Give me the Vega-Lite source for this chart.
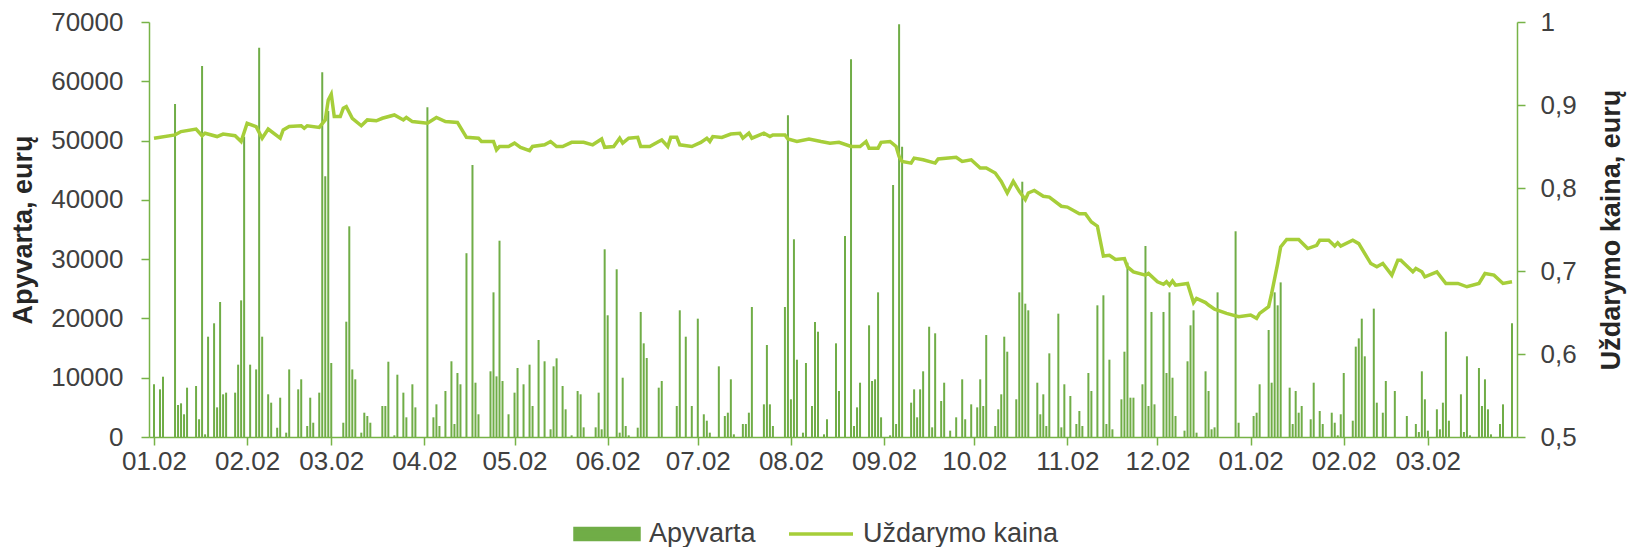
{
  "$schema": "https://vega.github.io/schema/vega-lite/v6.json",
  "width": 1368,
  "height": 415,
  "autosize": {"type": "none"},
  "padding": {"left": 149, "top": 22, "right": 114, "bottom": 110},
  "background": "white",
  "datasets": {
    "bars": [
      {"d":"2017-01-02T00:00","v":8890},{"d":"2017-01-04T00:00","v":8040},{"d":"2017-01-05T00:00","v":10170},{"d":"2017-01-09T00:00","v":56170},{"d":"2017-01-10T00:00","v":5400},{"d":"2017-01-11T00:00","v":5680},{"d":"2017-01-12T00:00","v":3830},{"d":"2017-01-13T00:00","v":8320},{"d":"2017-01-16T00:00","v":8600},{"d":"2017-01-17T00:00","v":2990},{"d":"2017-01-18T00:00","v":62580},{"d":"2017-01-19T00:00","v":450},{"d":"2017-01-20T00:00","v":16920},{"d":"2017-01-22T00:00","v":19180},{"d":"2017-01-23T00:00","v":5000},{"d":"2017-01-24T00:00","v":22770},{"d":"2017-01-25T00:00","v":7200},{"d":"2017-01-26T00:00","v":7480},{"d":"2017-01-29T00:00","v":7480},{"d":"2017-01-30T00:00","v":12200},{"d":"2017-01-31T00:00","v":23050},
      {"d":"2017-02-01T00:00","v":50650},{"d":"2017-02-03T00:00","v":12200},{"d":"2017-02-05T00:00","v":11400},{"d":"2017-02-06T00:00","v":65670},{"d":"2017-02-07T00:00","v":16920},{"d":"2017-02-09T00:00","v":7200},{"d":"2017-02-10T00:00","v":5790},{"d":"2017-02-12T00:00","v":1570},{"d":"2017-02-13T00:00","v":6630},{"d":"2017-02-15T00:00","v":730},{"d":"2017-02-16T00:00","v":11400},{"d":"2017-02-19T00:00","v":8040},{"d":"2017-02-20T00:00","v":9730},{"d":"2017-02-22T00:00","v":1860},{"d":"2017-02-23T00:00","v":6630},{"d":"2017-02-24T00:00","v":2410},{"d":"2017-02-26T00:00","v":7480},{"d":"2017-02-27T00:00","v":61520},{"d":"2017-02-28T00:00","v":43980},
      {"d":"2017-03-01T00:00","v":55000},{"d":"2017-03-02T00:00","v":12480},{"d":"2017-03-06T00:00","v":2410},{"d":"2017-03-07T00:00","v":19450},{"d":"2017-03-08T00:00","v":35540},{"d":"2017-03-09T00:00","v":11400},{"d":"2017-03-10T00:00","v":9730},{"d":"2017-03-12T00:00","v":730},{"d":"2017-03-13T00:00","v":4100},{"d":"2017-03-14T00:00","v":3540},{"d":"2017-03-15T00:00","v":2410},{"d":"2017-03-19T00:00","v":5230},{"d":"2017-03-20T00:00","v":5230},{"d":"2017-03-21T00:00","v":12700},{"d":"2017-03-23T00:00","v":280},{"d":"2017-03-24T00:00","v":10510},{"d":"2017-03-26T00:00","v":7480},{"d":"2017-03-27T00:00","v":3320},{"d":"2017-03-29T00:00","v":8890},{"d":"2017-03-30T00:00","v":5000},
      {"d":"2017-04-03T00:00","v":55610},{"d":"2017-04-05T00:00","v":3320},{"d":"2017-04-06T00:00","v":5510},{"d":"2017-04-07T00:00","v":1860},{"d":"2017-04-09T00:00","v":7760},{"d":"2017-04-11T00:00","v":12770},{"d":"2017-04-12T00:00","v":2190},{"d":"2017-04-13T00:00","v":10800},{"d":"2017-04-14T00:00","v":8890},{"d":"2017-04-16T00:00","v":31000},{"d":"2017-04-18T00:00","v":45880},{"d":"2017-04-19T00:00","v":9160},{"d":"2017-04-20T00:00","v":3830},{"d":"2017-04-24T00:00","v":11080},{"d":"2017-04-25T00:00","v":24400},{"d":"2017-04-26T00:00","v":10230},{"d":"2017-04-27T00:00","v":33110},{"d":"2017-04-28T00:00","v":9450},{"d":"2017-04-30T00:00","v":3830},
      {"d":"2017-05-02T00:00","v":7480},{"d":"2017-05-03T00:00","v":11640},{"d":"2017-05-05T00:00","v":8890},{"d":"2017-05-07T00:00","v":12200},{"d":"2017-05-08T00:00","v":5230},{"d":"2017-05-10T00:00","v":16360},{"d":"2017-05-12T00:00","v":12770},{"d":"2017-05-14T00:00","v":1300},{"d":"2017-05-15T00:00","v":11920},{"d":"2017-05-16T00:00","v":13270},{"d":"2017-05-18T00:00","v":8600},{"d":"2017-05-19T00:00","v":4670},{"d":"2017-05-21T00:00","v":280},{"d":"2017-05-23T00:00","v":7760},{"d":"2017-05-24T00:00","v":7200},{"d":"2017-05-25T00:00","v":1630},{"d":"2017-05-29T00:00","v":1630},{"d":"2017-05-30T00:00","v":7480},{"d":"2017-05-31T00:00","v":1300},
      {"d":"2017-06-01T00:00","v":31660},{"d":"2017-06-02T00:00","v":20530},{"d":"2017-06-05T00:00","v":28290},{"d":"2017-06-06T00:00","v":730},{"d":"2017-06-07T00:00","v":10000},{"d":"2017-06-08T00:00","v":1860},{"d":"2017-06-09T00:00","v":280},{"d":"2017-06-12T00:00","v":1570},{"d":"2017-06-13T00:00","v":21090},{"d":"2017-06-14T00:00","v":15800},{"d":"2017-06-15T00:00","v":13330},{"d":"2017-06-19T00:00","v":8320},{"d":"2017-06-20T00:00","v":9450},{"d":"2017-06-25T00:00","v":5230},{"d":"2017-06-26T00:00","v":21370},{"d":"2017-06-28T00:00","v":16920},{"d":"2017-06-30T00:00","v":5230},
      {"d":"2017-07-02T00:00","v":19960},{"d":"2017-07-04T00:00","v":3830},{"d":"2017-07-05T00:00","v":2750},{"d":"2017-07-06T00:00","v":730},{"d":"2017-07-09T00:00","v":11920},{"d":"2017-07-11T00:00","v":3540},{"d":"2017-07-12T00:00","v":4100},{"d":"2017-07-13T00:00","v":9730},{"d":"2017-07-14T00:00","v":450},{"d":"2017-07-17T00:00","v":2190},{"d":"2017-07-18T00:00","v":2190},{"d":"2017-07-19T00:00","v":4100},{"d":"2017-07-20T00:00","v":21930},{"d":"2017-07-24T00:00","v":5510},{"d":"2017-07-25T00:00","v":15520},{"d":"2017-07-26T00:00","v":5510},{"d":"2017-07-27T00:00","v":1860},{"d":"2017-07-31T00:00","v":21930},
      {"d":"2017-08-01T00:00","v":54270},{"d":"2017-08-02T00:00","v":6360},{"d":"2017-08-03T00:00","v":33350},{"d":"2017-08-04T00:00","v":13040},{"d":"2017-08-06T00:00","v":730},{"d":"2017-08-07T00:00","v":12480},{"d":"2017-08-09T00:00","v":5230},{"d":"2017-08-10T00:00","v":19400},{"d":"2017-08-11T00:00","v":17760},{"d":"2017-08-13T00:00","v":450},{"d":"2017-08-14T00:00","v":2990},{"d":"2017-08-17T00:00","v":15800},{"d":"2017-08-18T00:00","v":7760},{"d":"2017-08-20T00:00","v":33900},{"d":"2017-08-22T00:00","v":63710},{"d":"2017-08-23T00:00","v":1860},{"d":"2017-08-24T00:00","v":5000},{"d":"2017-08-25T00:00","v":9160},{"d":"2017-08-28T00:00","v":18840},{"d":"2017-08-29T00:00","v":9450},{"d":"2017-08-30T00:00","v":9730},{"d":"2017-08-31T00:00","v":24400},
      {"d":"2017-09-01T00:00","v":3320},{"d":"2017-09-04T00:00","v":280},{"d":"2017-09-05T00:00","v":42510},{"d":"2017-09-06T00:00","v":2190},{"d":"2017-09-07T00:00","v":69600},{"d":"2017-09-08T00:00","v":48970},{"d":"2017-09-11T00:00","v":5790},{"d":"2017-09-12T00:00","v":8040},{"d":"2017-09-13T00:00","v":3320},{"d":"2017-09-14T00:00","v":8040},{"d":"2017-09-15T00:00","v":11080},{"d":"2017-09-17T00:00","v":18600},{"d":"2017-09-18T00:00","v":1630},{"d":"2017-09-19T00:00","v":17490},{"d":"2017-09-21T00:00","v":6070},{"d":"2017-09-22T00:00","v":9160},{"d":"2017-09-24T00:00","v":1070},{"d":"2017-09-26T00:00","v":3320},{"d":"2017-09-28T00:00","v":9730},{"d":"2017-09-29T00:00","v":2990},
      {"d":"2017-10-01T00:00","v":5510},{"d":"2017-10-03T00:00","v":5000},{"d":"2017-10-04T00:00","v":9730},{"d":"2017-10-05T00:00","v":5230},{"d":"2017-10-06T00:00","v":17200},{"d":"2017-10-09T00:00","v":1860},{"d":"2017-10-10T00:00","v":4670},{"d":"2017-10-11T00:00","v":7200},{"d":"2017-10-12T00:00","v":16920},{"d":"2017-10-13T00:00","v":14390},{"d":"2017-10-16T00:00","v":6360},{"d":"2017-10-17T00:00","v":24400},{"d":"2017-10-18T00:00","v":43060},{"d":"2017-10-19T00:00","v":22490},{"d":"2017-10-20T00:00","v":21370},{"d":"2017-10-23T00:00","v":9160},{"d":"2017-10-24T00:00","v":3830},{"d":"2017-10-25T00:00","v":7200},{"d":"2017-10-26T00:00","v":1860},{"d":"2017-10-27T00:00","v":14110},{"d":"2017-10-30T00:00","v":20800},{"d":"2017-10-31T00:00","v":1630},
      {"d":"2017-11-01T00:00","v":8890},{"d":"2017-11-03T00:00","v":6920},{"d":"2017-11-05T00:00","v":2190},{"d":"2017-11-06T00:00","v":4390},{"d":"2017-11-07T00:00","v":1860},{"d":"2017-11-09T00:00","v":10800},{"d":"2017-11-10T00:00","v":7760},{"d":"2017-11-12T00:00","v":22210},{"d":"2017-11-14T00:00","v":23900},{"d":"2017-11-15T00:00","v":2190},{"d":"2017-11-16T00:00","v":13040},{"d":"2017-11-17T00:00","v":1300},{"d":"2017-11-20T00:00","v":6360},{"d":"2017-11-21T00:00","v":14390},{"d":"2017-11-22T00:00","v":29400},{"d":"2017-11-23T00:00","v":6630},{"d":"2017-11-24T00:00","v":6630},{"d":"2017-11-27T00:00","v":8890},{"d":"2017-11-28T00:00","v":32220},{"d":"2017-11-29T00:00","v":5230},{"d":"2017-11-30T00:00","v":21090},
      {"d":"2017-12-01T00:00","v":5510},{"d":"2017-12-04T00:00","v":21090},{"d":"2017-12-05T00:00","v":10800},{"d":"2017-12-06T00:00","v":24400},{"d":"2017-12-07T00:00","v":10000},{"d":"2017-12-08T00:00","v":3540},{"d":"2017-12-11T00:00","v":1070},{"d":"2017-12-12T00:00","v":12770},{"d":"2017-12-13T00:00","v":18840},{"d":"2017-12-14T00:00","v":21370},{"d":"2017-12-15T00:00","v":730},{"d":"2017-12-18T00:00","v":11080},{"d":"2017-12-19T00:00","v":7760},{"d":"2017-12-20T00:00","v":1300},{"d":"2017-12-21T00:00","v":1630},{"d":"2017-12-22T00:00","v":24400},{"d":"2017-12-28T00:00","v":34700},{"d":"2017-12-29T00:00","v":2410},
      {"d":"2018-01-03T00:00","v":3540},{"d":"2018-01-04T00:00","v":4100},{"d":"2018-01-05T00:00","v":8890},{"d":"2018-01-08T00:00","v":18050},{"d":"2018-01-09T00:00","v":9160},{"d":"2018-01-10T00:00","v":24400},{"d":"2018-01-11T00:00","v":22210},{"d":"2018-01-12T00:00","v":26080},{"d":"2018-01-15T00:00","v":8320},{"d":"2018-01-16T00:00","v":2190},{"d":"2018-01-17T00:00","v":7760},{"d":"2018-01-18T00:00","v":4100},{"d":"2018-01-19T00:00","v":5230},{"d":"2018-01-22T00:00","v":2990},{"d":"2018-01-23T00:00","v":9160},{"d":"2018-01-25T00:00","v":4390},{"d":"2018-01-26T00:00","v":2190},{"d":"2018-01-29T00:00","v":4100},{"d":"2018-01-30T00:00","v":2410},{"d":"2018-01-31T00:00","v":280},
      {"d":"2018-02-01T00:00","v":3830},{"d":"2018-02-02T00:00","v":10800},{"d":"2018-02-05T00:00","v":2750},{"d":"2018-02-06T00:00","v":15240},{"d":"2018-02-07T00:00","v":16640},{"d":"2018-02-08T00:00","v":19960},{"d":"2018-02-09T00:00","v":13610},{"d":"2018-02-12T00:00","v":21650},{"d":"2018-02-13T00:00","v":5790},{"d":"2018-02-15T00:00","v":4100},{"d":"2018-02-16T00:00","v":9450},{"d":"2018-02-19T00:00","v":7760},{"d":"2018-02-23T00:00","v":3540},{"d":"2018-02-26T00:00","v":2190},{"d":"2018-02-27T00:00","v":840},{"d":"2018-02-28T00:00","v":11080},
      {"d":"2018-03-01T00:00","v":6360},{"d":"2018-03-02T00:00","v":1070},{"d":"2018-03-05T00:00","v":4670},{"d":"2018-03-06T00:00","v":1300},{"d":"2018-03-07T00:00","v":5790},{"d":"2018-03-08T00:00","v":17760},{"d":"2018-03-09T00:00","v":2750},{"d":"2018-03-13T00:00","v":7200},{"d":"2018-03-14T00:00","v":840},{"d":"2018-03-15T00:00","v":13610},{"d":"2018-03-16T00:00","v":280},{"d":"2018-03-19T00:00","v":11640},{"d":"2018-03-20T00:00","v":5230},{"d":"2018-03-21T00:00","v":9730},{"d":"2018-03-22T00:00","v":4670},{"d":"2018-03-23T00:00","v":450},{"d":"2018-03-26T00:00","v":2190},{"d":"2018-03-27T00:00","v":5510},{"d":"2018-03-30T00:00","v":19180}
    ],
    "price": [
      {"d":"2017-01-02T00:00","p":0.860},{"d":"2017-01-09T00:00","p":0.864},{"d":"2017-01-11T00:00","p":0.868},{"d":"2017-01-16T00:00","p":0.871},{"d":"2017-01-18T00:00","p":0.863},{"d":"2017-01-19T00:00","p":0.866},{"d":"2017-01-23T00:00","p":0.862},{"d":"2017-01-25T00:00","p":0.865},{"d":"2017-01-29T00:00","p":0.863},{"d":"2017-01-31T00:00","p":0.856},
      {"d":"2017-02-02T00:00","p":0.878},{"d":"2017-02-05T00:00","p":0.874},{"d":"2017-02-07T00:00","p":0.860},{"d":"2017-02-09T00:00","p":0.871},{"d":"2017-02-13T00:00","p":0.860},{"d":"2017-02-14T00:00","p":0.870},{"d":"2017-02-16T00:00","p":0.874},{"d":"2017-02-20T00:00","p":0.875},{"d":"2017-02-21T00:00","p":0.872},{"d":"2017-02-22T00:00","p":0.875},{"d":"2017-02-26T00:00","p":0.873},{"d":"2017-02-28T00:00","p":0.882},
      {"d":"2017-03-01T00:00","p":0.906},{"d":"2017-03-02T00:00","p":0.913},{"d":"2017-03-03T00:00","p":0.886},{"d":"2017-03-05T00:00","p":0.886},{"d":"2017-03-06T00:00","p":0.896},{"d":"2017-03-07T00:00","p":0.898},{"d":"2017-03-09T00:00","p":0.884},{"d":"2017-03-12T00:00","p":0.875},{"d":"2017-03-14T00:00","p":0.882},{"d":"2017-03-17T00:00","p":0.881},{"d":"2017-03-19T00:00","p":0.884},{"d":"2017-03-23T00:00","p":0.888},{"d":"2017-03-26T00:00","p":0.882},{"d":"2017-03-27T00:00","p":0.885},{"d":"2017-03-29T00:00","p":0.880},
      {"d":"2017-04-03T00:00","p":0.878},{"d":"2017-04-06T00:00","p":0.885},{"d":"2017-04-09T00:00","p":0.880},{"d":"2017-04-13T00:00","p":0.879},{"d":"2017-04-16T00:00","p":0.861},{"d":"2017-04-20T00:00","p":0.860},{"d":"2017-04-21T00:00","p":0.856},{"d":"2017-04-25T00:00","p":0.856},{"d":"2017-04-26T00:00","p":0.846},{"d":"2017-04-27T00:00","p":0.850},{"d":"2017-04-30T00:00","p":0.850},
      {"d":"2017-05-02T00:00","p":0.854},{"d":"2017-05-04T00:00","p":0.849},{"d":"2017-05-07T00:00","p":0.845},{"d":"2017-05-08T00:00","p":0.850},{"d":"2017-05-12T00:00","p":0.852},{"d":"2017-05-14T00:00","p":0.856},{"d":"2017-05-16T00:00","p":0.850},{"d":"2017-05-18T00:00","p":0.850},{"d":"2017-05-21T00:00","p":0.855},{"d":"2017-05-25T00:00","p":0.855},{"d":"2017-05-28T00:00","p":0.852},{"d":"2017-05-31T00:00","p":0.859},
      {"d":"2017-06-01T00:00","p":0.849},{"d":"2017-06-04T00:00","p":0.850},{"d":"2017-06-06T00:00","p":0.860},{"d":"2017-06-07T00:00","p":0.854},{"d":"2017-06-09T00:00","p":0.860},{"d":"2017-06-12T00:00","p":0.861},{"d":"2017-06-13T00:00","p":0.850},{"d":"2017-06-16T00:00","p":0.850},{"d":"2017-06-19T00:00","p":0.856},{"d":"2017-06-20T00:00","p":0.858},{"d":"2017-06-22T00:00","p":0.850},{"d":"2017-06-23T00:00","p":0.861},{"d":"2017-06-25T00:00","p":0.861},{"d":"2017-06-26T00:00","p":0.852},{"d":"2017-06-30T00:00","p":0.850},
      {"d":"2017-07-03T00:00","p":0.855},{"d":"2017-07-05T00:00","p":0.860},{"d":"2017-07-06T00:00","p":0.856},{"d":"2017-07-07T00:00","p":0.862},{"d":"2017-07-10T00:00","p":0.861},{"d":"2017-07-13T00:00","p":0.865},{"d":"2017-07-16T00:00","p":0.866},{"d":"2017-07-17T00:00","p":0.860},{"d":"2017-07-19T00:00","p":0.866},{"d":"2017-07-20T00:00","p":0.860},{"d":"2017-07-24T00:00","p":0.866},{"d":"2017-07-26T00:00","p":0.862},{"d":"2017-07-27T00:00","p":0.864},{"d":"2017-07-31T00:00","p":0.864},
      {"d":"2017-08-01T00:00","p":0.859},{"d":"2017-08-04T00:00","p":0.856},{"d":"2017-08-08T00:00","p":0.859},{"d":"2017-08-12T00:00","p":0.856},{"d":"2017-08-15T00:00","p":0.854},{"d":"2017-08-18T00:00","p":0.855},{"d":"2017-08-22T00:00","p":0.850},{"d":"2017-08-25T00:00","p":0.850},{"d":"2017-08-27T00:00","p":0.856},{"d":"2017-08-28T00:00","p":0.848},{"d":"2017-08-31T00:00","p":0.848},
      {"d":"2017-09-01T00:00","p":0.855},{"d":"2017-09-04T00:00","p":0.856},{"d":"2017-09-06T00:00","p":0.850},{"d":"2017-09-07T00:00","p":0.838},{"d":"2017-09-08T00:00","p":0.832},{"d":"2017-09-11T00:00","p":0.830},{"d":"2017-09-12T00:00","p":0.836},{"d":"2017-09-15T00:00","p":0.834},{"d":"2017-09-19T00:00","p":0.830},{"d":"2017-09-20T00:00","p":0.835},{"d":"2017-09-26T00:00","p":0.837},{"d":"2017-09-28T00:00","p":0.832},
      {"d":"2017-10-01T00:00","p":0.834},{"d":"2017-10-04T00:00","p":0.824},{"d":"2017-10-06T00:00","p":0.824},{"d":"2017-10-09T00:00","p":0.818},{"d":"2017-10-11T00:00","p":0.808},{"d":"2017-10-13T00:00","p":0.794},{"d":"2017-10-15T00:00","p":0.808},{"d":"2017-10-17T00:00","p":0.796},{"d":"2017-10-19T00:00","p":0.786},{"d":"2017-10-20T00:00","p":0.794},{"d":"2017-10-22T00:00","p":0.797},{"d":"2017-10-25T00:00","p":0.790},{"d":"2017-10-27T00:00","p":0.789},{"d":"2017-10-31T00:00","p":0.778},
      {"d":"2017-11-02T00:00","p":0.777},{"d":"2017-11-06T00:00","p":0.769},{"d":"2017-11-08T00:00","p":0.769},{"d":"2017-11-10T00:00","p":0.759},{"d":"2017-11-12T00:00","p":0.754},{"d":"2017-11-14T00:00","p":0.718},{"d":"2017-11-16T00:00","p":0.719},{"d":"2017-11-18T00:00","p":0.714},{"d":"2017-11-21T00:00","p":0.715},{"d":"2017-11-22T00:00","p":0.705},{"d":"2017-11-24T00:00","p":0.699},{"d":"2017-11-28T00:00","p":0.695},{"d":"2017-11-29T00:00","p":0.697},
      {"d":"2017-12-02T00:00","p":0.687},{"d":"2017-12-04T00:00","p":0.684},{"d":"2017-12-05T00:00","p":0.687},{"d":"2017-12-06T00:00","p":0.683},{"d":"2017-12-07T00:00","p":0.688},{"d":"2017-12-08T00:00","p":0.683},{"d":"2017-12-12T00:00","p":0.685},{"d":"2017-12-14T00:00","p":0.662},{"d":"2017-12-15T00:00","p":0.667},{"d":"2017-12-18T00:00","p":0.662},{"d":"2017-12-19T00:00","p":0.659},{"d":"2017-12-21T00:00","p":0.654},{"d":"2017-12-25T00:00","p":0.649},{"d":"2017-12-29T00:00","p":0.645},
      {"d":"2018-01-02T00:00","p":0.647},{"d":"2018-01-04T00:00","p":0.643},{"d":"2018-01-05T00:00","p":0.649},{"d":"2018-01-08T00:00","p":0.657},{"d":"2018-01-09T00:00","p":0.673},{"d":"2018-01-11T00:00","p":0.709},{"d":"2018-01-12T00:00","p":0.729},{"d":"2018-01-14T00:00","p":0.738},{"d":"2018-01-18T00:00","p":0.738},{"d":"2018-01-21T00:00","p":0.727},{"d":"2018-01-24T00:00","p":0.731},{"d":"2018-01-25T00:00","p":0.737},{"d":"2018-01-28T00:00","p":0.737},{"d":"2018-01-30T00:00","p":0.730},{"d":"2018-01-31T00:00","p":0.734},
      {"d":"2018-02-01T00:00","p":0.730},{"d":"2018-02-05T00:00","p":0.737},{"d":"2018-02-07T00:00","p":0.733},{"d":"2018-02-11T00:00","p":0.709},{"d":"2018-02-13T00:00","p":0.705},{"d":"2018-02-15T00:00","p":0.709},{"d":"2018-02-18T00:00","p":0.695},{"d":"2018-02-20T00:00","p":0.713},{"d":"2018-02-21T00:00","p":0.713},{"d":"2018-02-25T00:00","p":0.699},{"d":"2018-02-26T00:00","p":0.703},{"d":"2018-02-28T00:00","p":0.699},
      {"d":"2018-03-01T00:00","p":0.693},{"d":"2018-03-05T00:00","p":0.699},{"d":"2018-03-08T00:00","p":0.685},{"d":"2018-03-12T00:00","p":0.685},{"d":"2018-03-15T00:00","p":0.681},{"d":"2018-03-19T00:00","p":0.685},{"d":"2018-03-21T00:00","p":0.697},{"d":"2018-03-24T00:00","p":0.695},{"d":"2018-03-27T00:00","p":0.685},{"d":"2018-03-30T00:00","p":0.687}
    ]
  },
  "encoding": {
    "x": {
      "field": "d",
      "type": "temporal",
      "scale": {"domain": [{"year": 2017, "month": 1, "date": 2}, {"year": 2018, "month": 3, "date": 30}]},
      "axis": {
        "title": null,
        "format": "%m.%d",
        "values": [
          {"year": 2017, "month": 1, "date": 2}, {"year": 2017, "month": 2, "date": 2}, {"year": 2017, "month": 3, "date": 2},
          {"year": 2017, "month": 4, "date": 2}, {"year": 2017, "month": 5, "date": 2}, {"year": 2017, "month": 6, "date": 2},
          {"year": 2017, "month": 7, "date": 2}, {"year": 2017, "month": 8, "date": 2}, {"year": 2017, "month": 9, "date": 2},
          {"year": 2017, "month": 10, "date": 2}, {"year": 2017, "month": 11, "date": 2}, {"year": 2017, "month": 12, "date": 2},
          {"year": 2018, "month": 1, "date": 2}, {"year": 2018, "month": 2, "date": 2}, {"year": 2018, "month": 3, "date": 2}
        ],
        "tickSize": 8,
        "labelPadding": 3,
        "labelFlush": false,
        "labelOverlap": false
      }
    }
  },
  "layer": [
    {
      "data": {"name": "bars"},
      "mark": {"type": "bar", "size": 2},
      "encoding": {
        "y": {
          "field": "v",
          "type": "quantitative",
          "scale": {"domain": [0, 70000], "nice": false},
          "axis": {
            "orient": "left",
            "title": "Apyvarta, eurų",
            "values": [0, 10000, 20000, 30000, 40000, 50000, 60000, 70000],
            "format": "d",
            "tickSize": 8,
            "labelPadding": 18,
            "titleX": -126,
            "titleY": 207.5,
            "titleAngle": 270,
            "titleAlign": "center",
            "titleBaseline": "middle"
          }
        },
        "color": {
          "datum": "Apyvarta",
          "type": "nominal",
          "scale": {"domain": ["Apyvarta", "Uždarymo kaina"], "range": ["#70AD47", "#A6CE39"]},
          "legend": {
            "title": null,
            "orient": "none",
            "direction": "horizontal",
            "legendX": 424,
            "legendY": 478,
            "padding": 0,
            "symbolSize": 4096,
            "labelFontSize": 27,
            "labelFont": "Liberation Sans",
            "labelColor": "#404040",
            "labelOffset": 8,
            "labelLimit": 600,
            "columnPadding": 26,
            "encode": {
              "symbols": {
                "update": {
                  "shape": {"signal": "datum.value === 'Apyvarta' ? 'M-1,-0.17H1V0.17H-1Z' : 'M-1,0H1'"},
                  "fill": {"signal": "datum.value === 'Apyvarta' ? '#70AD47' : 'transparent'"},
                  "stroke": {"signal": "datum.value === 'Apyvarta' ? 'transparent' : '#A6CE39'"},
                  "strokeWidth": {"value": 3.5},
                  "opacity": {"value": 1}
                }
              }
            }
          }
        }
      }
    },
    {
      "data": {"name": "price"},
      "mark": {"type": "line", "strokeWidth": 3.5, "interpolate": "linear"},
      "encoding": {
        "y": {
          "field": "p",
          "type": "quantitative",
          "scale": {"domain": [0.5, 1], "nice": false, "zero": false},
          "axis": {
            "orient": "right",
            "title": "Uždarymo kaina, eurų",
            "values": [0.5, 0.6, 0.7, 0.8, 0.9, 1],
            "labelExpr": "replace(format(datum.value, '.1~f'), '.', ',')",
            "tickSize": 8,
            "labelPadding": 15,
            "titleX": 94,
            "titleY": 207.5,
            "titleAngle": 270,
            "titleAlign": "center",
            "titleBaseline": "middle"
          }
        },
        "color": {"datum": "Uždarymo kaina", "type": "nominal"}
      }
    }
  ],
  "resolve": {"scale": {"y": "independent"}},
  "config": {
    "view": {"stroke": null},
    "axis": {
      "grid": false,
      "labelFont": "Liberation Sans",
      "labelFontSize": 26,
      "labelColor": "#404040",
      "titleFont": "Liberation Sans",
      "titleFontSize": 27,
      "titleFontWeight": "bold",
      "titleColor": "#262626",
      "domainColor": "#77B347",
      "tickColor": "#77B347",
      "domainWidth": 1.5,
      "tickWidth": 1.5
    }
  }
}
